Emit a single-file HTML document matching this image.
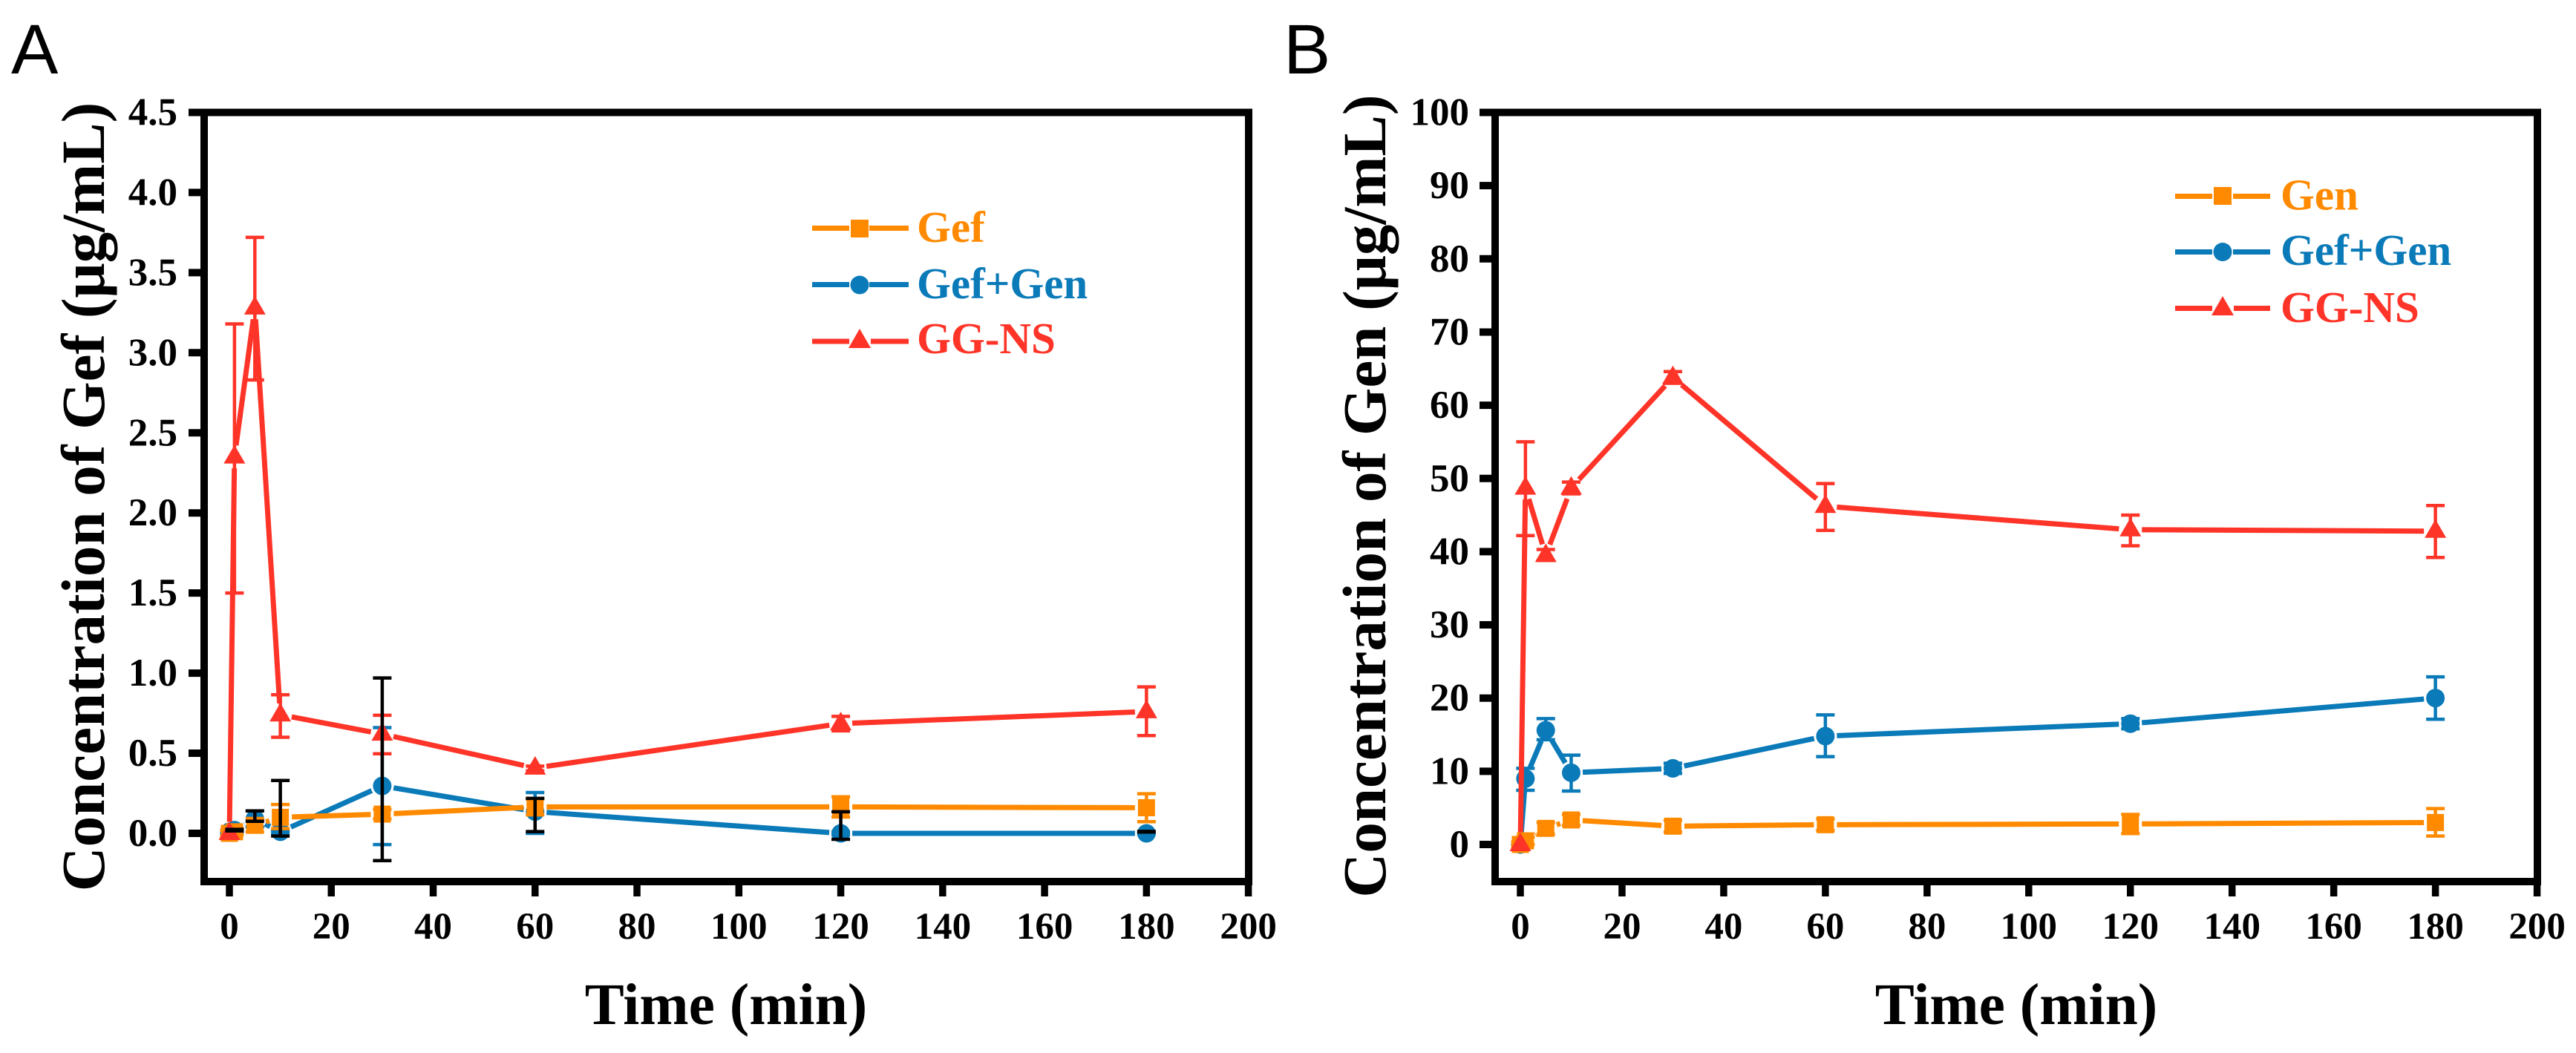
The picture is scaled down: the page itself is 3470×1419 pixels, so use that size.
<!DOCTYPE html>
<html lang="en">
<head>
<meta charset="utf-8">
<title>Concentration of Gef and Gen over time</title>
<style>
html,body{margin:0;padding:0;background:#fff;width:3470px;height:1419px;overflow:hidden}
svg{display:block}
text{font-family:"Liberation Serif",serif;font-weight:bold;fill:#000}
.panel-letter{font-family:"Liberation Sans",sans-serif;font-weight:normal;font-size:95px}
.axis-title-x{font-size:79.5px;text-anchor:middle}
.axis-title-y{font-size:83px;text-anchor:middle}
.legend-text{font-size:59px}
</style>
</head>
<body>
<svg id="chart" xmlns="http://www.w3.org/2000/svg" width="3470" height="1419" viewBox="0 0 3470 1419">
  <rect width="3470" height="1419" fill="#fff"/>

  <g id="panel-a">
    <text class="panel-letter" x="15" y="99">A</text>
    <rect x="275" y="151.5" width="1407" height="1036.5" fill="none" stroke="#000" stroke-width="10"/>
    <text class="axis-title-x" x="978" y="1380">Time (min)</text>
    <text class="axis-title-y" transform="translate(140 669.5) rotate(-90)">Concentration of Gef (μg/mL)</text>
    <g>
      <g>
        <path d="M1094 307.5H1144M1171 307.5H1224" stroke="#FF8A00" stroke-width="7" fill="none"/>
        <rect x="1146" y="296" width="24" height="24" fill="#FF8A00"/>
        <text class="legend-text" x="1235" y="326" style="fill:#FF8A00">Gef</text>
      </g>
      <g>
        <path d="M1094 383.5H1144M1171 383.5H1224" stroke="#0A7AB8" stroke-width="7" fill="none"/>
        <circle cx="1158" cy="384" r="12.5" fill="#0A7AB8"/>
        <text class="legend-text" x="1235" y="402" style="fill:#0A7AB8">Gef+Gen</text>
      </g>
      <g>
        <path d="M1094 460H1144M1173 460H1224" stroke="#FF3428" stroke-width="7" fill="none"/>
        <path d="M1158 443L1173 469H1143Z" fill="#FF3428"/>
        <text class="legend-text" x="1235" y="476" style="fill:#FF3428">GG-NS</text>
      </g>
    </g>
  </g>

  <g id="panel-b">
    <text class="panel-letter" x="1729" y="99">B</text>
    <rect x="2014" y="151.5" width="1404" height="1036.5" fill="none" stroke="#000" stroke-width="10"/>
    <text class="axis-title-x" x="2716" y="1380">Time (min)</text>
    <text class="axis-title-y" transform="translate(1866 668.5) rotate(-90)">Concentration of Gen (μg/mL)</text>
    <g>
      <g>
        <path d="M2930 264.5H2980M3008 264.5H3058" stroke="#FF8A00" stroke-width="7" fill="none"/>
        <rect x="2982" y="252" width="24" height="24" fill="#FF8A00"/>
        <text class="legend-text" x="3072" y="282.5" style="fill:#FF8A00">Gen</text>
      </g>
      <g>
        <path d="M2930 339.5H2980M3008 339.5H3058" stroke="#0A7AB8" stroke-width="7" fill="none"/>
        <circle cx="2994" cy="339.5" r="12.5" fill="#0A7AB8"/>
        <text class="legend-text" x="3072" y="357" style="fill:#0A7AB8">Gef+Gen</text>
      </g>
      <g>
        <path d="M2930 415.5H2980M3009 415.5H3058" stroke="#FF3428" stroke-width="7" fill="none"/>
        <path d="M2994 399L3009 425H2979Z" fill="#FF3428"/>
        <text class="legend-text" x="3072" y="434" style="fill:#FF3428">GG-NS</text>
      </g>
    </g>
  </g>
</svg>

<script>
// ---- shared categories and tick labels ----
const times = [0, 1, 5, 10, 30, 60, 120, 180];
const xTickValues = [0, 20, 40, 60, 80, 100, 120, 140, 160, 180, 200];
const yTickLabelsA = ["0.0", "0.5", "1.0", "1.5", "2.0", "2.5", "3.0", "3.5", "4.0", "4.5"];
const yTickLabelsB = ["0", "10", "20", "30", "40", "50", "60", "70", "80", "90", "100"];

// ---- panel A values (µg/mL) ----
const gefMeanA = [0, 0.01, 0.05, 0.10, 0.12, 0.165, 0.165, 0.16];
const gefUpperA = [0.02, 0.03, 0.09, 0.18, 0.15, 0.215, 0.228, 0.247];
const gefLowerA = [-0.02, -0.01, 0.01, 0.03, 0.09, 0.115, 0.102, 0.073];
const comboMeanA = [0.01, 0.02, 0.09, 0.01, 0.296, 0.136, 0, 0];
const comboUpperA = [0.02, 0.03, 0.14, 0.02, 0.66, 0.255, 0.01, 0.005];
const comboLowerA = [0, 0.01, 0.04, 0, -0.07, 0, -0.01, -0.005];
const comboBlackUpperA = [null, 0.025, 0.14, 0.33, 0.97, 0.218, 0.135, 0.012];
const comboBlackLowerA = [null, 0.015, 0.075, -0.017, -0.17, 0.011, -0.037, 0.008];
const nsMeanA = [0, 2.35, 3.28, 0.74, 0.62, 0.408, 0.685, 0.76];
const nsUpperA = [0.02, 3.18, 3.72, 0.865, 0.737, 0.42, 0.73, 0.914];
const nsLowerA = [-0.02, 1.5, 2.83, 0.6, 0.497, 0.39, 0.64, 0.61];

// ---- panel B values (µg/mL) ----
const genMeanB = [0, 0.5, 2.2, 3.35, 2.5, 2.7, 2.8, 3.0];
const genUpperB = [0.3, 1.0, 3.0, 4.1, 3.3, 3.5, 4.1, 4.9];
const genLowerB = [-0.3, 0, 1.4, 2.6, 1.7, 1.9, 1.5, 1.15];
const comboMeanB = [0, 9.0, 15.6, 9.8, 10.4, 14.8, 16.5, 20.0];
const comboUpperB = [0.3, 10.4, 17.2, 12.2, 11.1, 17.7, 17.2, 22.9];
const comboLowerB = [-0.3, 7.4, 14.3, 7.3, 9.7, 12.0, 15.8, 17.1];
const nsMeanB = [0, 48.7, 39.5, 48.7, 63.8, 46.2, 43.0, 42.8];
const nsUpperB = [0.3, 55.0, 40.3, 49.5, 64.6, 49.3, 45.0, 46.3];
const nsLowerB = [-0.3, 42.2, 38.8, 47.9, 63.0, 42.9, 40.8, 39.2];

// ---- axis functions ----
const xA = t => 309 + 6.863 * t;
const yA = v => 1123 - 215.9 * v;
const xB = t => 2048 + 6.848 * t;
const yB = v => 1138 - 9.865 * v;

const ORANGE = "#FF8A00", BLUE = "#0A7AB8", RED = "#FF3428", BLACK = "#000";
const NS = "http://www.w3.org/2000/svg";

function make(tag, parent, attrs) {
  const node = document.createElementNS(NS, tag);
  for (const k in attrs) node.setAttribute(k, attrs[k]);
  parent.appendChild(node);
  return node;
}

function drawAxes(parent, prefix, xFn, yFn, yValues, yLabels, tickLeft, tickRight, labelX) {
  xTickValues.forEach(function (t) {
    const tick = make("line", parent, {x1: xFn(t), x2: xFn(t), y1: 1188, y2: 1208, stroke: BLACK, "stroke-width": 9.5});
    
    
    const label = make("text", parent, {x: xFn(t), y: 1265, "text-anchor": "middle", "font-size": 51});
    label.textContent = String(t);
    
    
  });
  yLabels.forEach(function (text, i) {
    const v = yValues[i];
    const tick = make("line", parent, {x1: tickLeft, x2: tickRight, y1: yFn(v), y2: yFn(v), stroke: BLACK, "stroke-width": 10});
    
    
    const label = make("text", parent, {x: labelX, y: yFn(v) + 17, "text-anchor": "end", "font-size": 53});
    label.textContent = text;
    
    
  });
}

function drawLine(parent, name, xFn, yFn, means, color) {
  const gap = 15.5;
  for (let i = 0; i + 1 < means.length; i++) {
    const x1 = xFn(times[i]), y1 = yFn(means[i]);
    const x2 = xFn(times[i + 1]), y2 = yFn(means[i + 1]);
    const len = Math.hypot(x2 - x1, y2 - y1);
    if (len <= gap * 2) continue;
    const ux = (x2 - x1) / len, uy = (y2 - y1) / len;
    const seg = make("line", parent, {
      x1: x1 + ux * gap, y1: y1 + uy * gap,
      x2: x2 - ux * gap, y2: y2 - uy * gap,
      stroke: color, "stroke-width": 7
    });
    
    
  }
}

function drawErrors(parent, name, xFn, yFn, upper, lower, color) {
  for (let i = 0; i < times.length; i++) {
    if (upper[i] === null || lower[i] === null) continue;
    const x = xFn(times[i]), yu = yFn(upper[i]), yl = yFn(lower[i]);
    const bar = make("path", parent, {
      d: "M" + x + " " + yu + "V" + yl +
         "M" + (x - 12.5) + " " + yu + "H" + (x + 12.5) +
         "M" + (x - 12.5) + " " + yl + "H" + (x + 12.5),
      stroke: color, "stroke-width": 4.5, fill: "none"
    });
    
    
  }
}

function drawMarkers(parent, name, shape, xFn, yFn, means, color) {
  means.forEach(function (v, i) {
    const x = xFn(times[i]), y = yFn(v);
    let m;
    if (shape === "square") {
      m = make("rect", parent, {x: x - 11.5, y: y - 11.5, width: 23, height: 23, fill: color});
    } else if (shape === "circle") {
      m = make("circle", parent, {cx: x, cy: y, r: 12.5, fill: color});
    } else {
      m = make("path", parent, {d: "M" + x + " " + (y - 16) + "L" + (x + 14.5) + " " + (y + 9) + "H" + (x - 14.5) + "Z", fill: color});
    }
    
    
  });
}

// ---- panel A ----
const panelA = document.getElementById("panel-a");
drawAxes(panelA, "panel-a", xA, yA, yTickLabelsA.map(Number), yTickLabelsA, 254, 272, 239);
drawLine(panelA, "gef-plus-gen-a", xA, yA, comboMeanA, BLUE);
drawErrors(panelA, "gef-plus-gen-a", xA, yA, comboUpperA, comboLowerA, BLUE);
drawMarkers(panelA, "gef-plus-gen-a", "circle", xA, yA, comboMeanA, BLUE);
drawLine(panelA, "gg-ns-a", xA, yA, nsMeanA, RED);
drawErrors(panelA, "gg-ns-a", xA, yA, nsUpperA, nsLowerA, RED);
drawLine(panelA, "gef-a", xA, yA, gefMeanA, ORANGE);
drawErrors(panelA, "gef-a", xA, yA, gefUpperA, gefLowerA, ORANGE);
drawMarkers(panelA, "gef-a", "square", xA, yA, gefMeanA, ORANGE);
drawMarkers(panelA, "gg-ns-a", "triangle", xA, yA, nsMeanA, RED);
drawErrors(panelA, "gef-plus-gen-black-a", xA, yA, comboBlackUpperA, comboBlackLowerA, BLACK);

// ---- panel B ----
const panelB = document.getElementById("panel-b");
drawAxes(panelB, "panel-b", xB, yB, yTickLabelsB.map(Number), yTickLabelsB, 1993, 2011, 1979);
drawLine(panelB, "gef-plus-gen-b", xB, yB, comboMeanB, BLUE);
drawErrors(panelB, "gef-plus-gen-b", xB, yB, comboUpperB, comboLowerB, BLUE);
drawMarkers(panelB, "gef-plus-gen-b", "circle", xB, yB, comboMeanB, BLUE);
drawLine(panelB, "gg-ns-b", xB, yB, nsMeanB, RED);
drawErrors(panelB, "gg-ns-b", xB, yB, nsUpperB, nsLowerB, RED);
drawLine(panelB, "gen-b", xB, yB, genMeanB, ORANGE);
drawErrors(panelB, "gen-b", xB, yB, genUpperB, genLowerB, ORANGE);
drawMarkers(panelB, "gen-b", "square", xB, yB, genMeanB, ORANGE);
drawMarkers(panelB, "gg-ns-b", "triangle", xB, yB, nsMeanB, RED);
</script>
</body>
</html>
